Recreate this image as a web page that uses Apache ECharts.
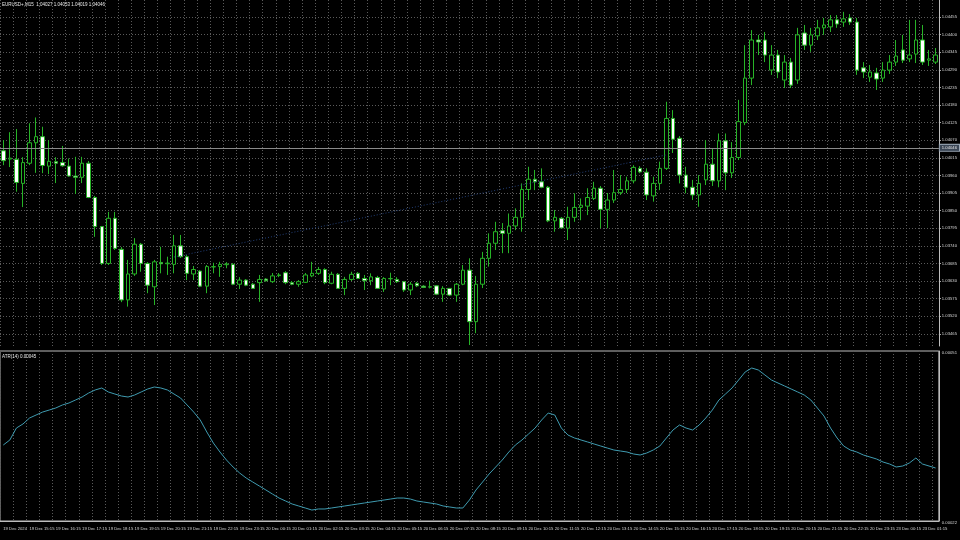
<!DOCTYPE html>
<html><head><meta charset="utf-8">
<script src="https://cdn.jsdelivr.net/npm/echarts@6/dist/echarts.min.js"></script>
<style>html,body{margin:0;padding:0;background:#000}#c{width:960px;height:540px}</style>
</head><body><div id="c"></div>
<script>
const symbolName = 'EURUSD+,M15';
const lastOHLC = '1.04027 1.04053 1.04019 1.04046';
const currentPrice = 1.04046;
const atrLabel = 'ATR(14) 0.00045';
const priceTicks = [1.03465,1.03520,1.03575,1.03630,1.03685,1.03740,1.03795,1.03850,1.03905,1.03960,1.04015,1.04070,1.04125,1.04180,1.04235,1.04290,1.04345,1.04400,1.04455];
const atrTicks = [0.00022, 0.00051];
const trendline = [[26, 1.03705], [101, 1.04024]];

const opens = [1.04037,1.04011,1.04010,1.03935,1.03998,1.04062,1.04081,1.03989,1.04003,1.04000,
1.03989,1.03958,1.03954,1.03998,1.03891,1.03800,1.03685,1.03826,1.03729,1.03571,
1.03652,1.03745,1.03685,1.03612,1.03688,1.03684,1.03682,1.03740,1.03706,1.03652,
1.03661,1.03614,1.03674,1.03675,1.03681,1.03682,1.03620,1.03633,1.03620,1.03625,
1.03636,1.03628,1.03647,1.03656,1.03625,1.03620,1.03626,1.03646,1.03654,1.03666,
1.03623,1.03651,1.03607,1.03635,1.03654,1.03638,1.03631,1.03641,1.03605,1.03637,
1.03635,1.03628,1.03602,1.03623,1.03614,1.03611,1.03615,1.03589,1.03607,1.03586,
1.03620,1.03664,1.03503,1.03620,1.03701,1.03748,1.03787,1.03779,1.03802,1.03829,
1.03916,1.03948,1.03940,1.03923,1.03818,1.03826,1.03795,1.03829,1.03860,1.03864,
1.03888,1.03920,1.03854,1.03883,1.03906,1.03916,1.03943,1.03982,1.03970,1.03896,
1.03935,1.03982,1.04138,1.04076,1.03961,1.03923,1.03899,1.03946,1.03995,1.03943,
1.04068,1.03968,1.04016,1.04125,1.04264,1.04383,1.04383,1.04289,1.04336,1.04258,
1.04314,1.04258,1.04405,1.04367,1.04396,1.04421,1.04424,1.04446,1.04439,1.04452,
1.04439,1.04296,1.04267,1.04280,1.04264,1.04289,1.04314,1.04352,1.04324,1.04339,
1.04383,1.04320,1.04314];
const closes = [1.04006,1.04014,1.03938,1.04000,1.04062,1.04081,1.03991,1.04004,1.03998,1.03990,
1.03958,1.03954,1.03998,1.03891,1.03800,1.03685,1.03826,1.03732,1.03571,1.03652,
1.03745,1.03685,1.03617,1.03690,1.03684,1.03686,1.03740,1.03706,1.03654,1.03666,
1.03614,1.03675,1.03675,1.03682,1.03683,1.03620,1.03633,1.03617,1.03607,1.03635,
1.03631,1.03646,1.03649,1.03625,1.03620,1.03628,1.03649,1.03654,1.03666,1.03625,
1.03651,1.03607,1.03635,1.03651,1.03638,1.03631,1.03643,1.03607,1.03638,1.03638,
1.03628,1.03602,1.03620,1.03615,1.03610,1.03612,1.03589,1.03607,1.03586,1.03620,
1.03664,1.03503,1.03620,1.03701,1.03748,1.03784,1.03779,1.03802,1.03829,1.03916,
1.03948,1.03940,1.03923,1.03818,1.03829,1.03796,1.03829,1.03860,1.03867,1.03891,
1.03920,1.03854,1.03883,1.03906,1.03916,1.03943,1.03985,1.03971,1.03899,1.03935,
1.03982,1.04138,1.04073,1.03961,1.03923,1.03899,1.03935,1.03995,1.03943,1.04068,
1.03968,1.04016,1.04128,1.04264,1.04383,1.04377,1.04336,1.04336,1.04283,1.04314,
1.04242,1.04399,1.04367,1.04399,1.04421,1.04430,1.04446,1.04433,1.04449,1.04439,
1.04289,1.04283,1.04283,1.04261,1.04289,1.04314,1.04333,1.04320,1.04336,1.04383,
1.04314,1.04324,1.04336];
const highs = [1.04070,1.04095,1.04105,1.04017,1.04123,1.04141,1.04112,1.04070,1.04017,1.04052,
1.04013,1.04018,1.04018,1.04005,1.03896,1.03802,1.03846,1.03846,1.03736,1.03696,
1.03764,1.03749,1.03689,1.03696,1.03737,1.03706,1.03774,1.03774,1.03711,1.03677,
1.03664,1.03680,1.03687,1.03690,1.03689,1.03686,1.03642,1.03636,1.03624,1.03649,
1.03639,1.03655,1.03655,1.03661,1.03630,1.03633,1.03655,1.03690,1.03674,1.03670,
1.03659,1.03655,1.03643,1.03659,1.03658,1.03649,1.03654,1.03646,1.03642,1.03656,
1.03642,1.03630,1.03627,1.03627,1.03617,1.03631,1.03617,1.03614,1.03608,1.03624,
1.03680,1.03701,1.03646,1.03721,1.03779,1.03815,1.03811,1.03841,1.03857,1.03935,
1.03987,1.03977,1.03982,1.03927,1.03852,1.03830,1.03862,1.03904,1.03888,1.03920,
1.03940,1.03927,1.03905,1.03977,1.03961,1.03956,1.03992,1.03989,1.03982,1.03956,
1.04003,1.04190,1.04164,1.04083,1.03987,1.03946,1.03961,1.04070,1.04045,1.04091,
1.04091,1.04064,1.04196,1.04367,1.04414,1.04399,1.04408,1.04367,1.04352,1.04336,
1.04327,1.04421,1.04430,1.04421,1.04446,1.04452,1.04461,1.04461,1.04471,1.04464,
1.04452,1.04314,1.04305,1.04296,1.04314,1.04336,1.04383,1.04399,1.04446,1.04446,
1.04430,1.04352,1.04358];
const lows = [1.03992,1.03986,1.03909,1.03861,1.03992,1.03968,1.03967,1.03964,1.03936,1.03987,
1.03956,1.03902,1.03936,1.03889,1.03768,1.03680,1.03680,1.03727,1.03564,1.03550,
1.03646,1.03659,1.03592,1.03555,1.03654,1.03649,1.03654,1.03702,1.03633,1.03633,
1.03611,1.03592,1.03654,1.03643,1.03670,1.03617,1.03605,1.03614,1.03605,1.03565,
1.03628,1.03624,1.03642,1.03620,1.03617,1.03612,1.03624,1.03642,1.03649,1.03620,
1.03620,1.03605,1.03586,1.03630,1.03636,1.03602,1.03617,1.03605,1.03596,1.03617,
1.03624,1.03596,1.03586,1.03611,1.03608,1.03607,1.03586,1.03565,1.03583,1.03565,
1.03617,1.03430,1.03467,1.03608,1.03675,1.03727,1.03717,1.03717,1.03789,1.03784,
1.03883,1.03914,1.03920,1.03814,1.03784,1.03795,1.03758,1.03815,1.03820,1.03836,
1.03883,1.03795,1.03795,1.03874,1.03899,1.03905,1.03935,1.03967,1.03883,1.03878,
1.03914,1.03977,1.04030,1.03935,1.03904,1.03883,1.03862,1.03930,1.03927,1.03923,
1.03914,1.03952,1.04008,1.04117,1.04242,1.04336,1.04314,1.04274,1.04264,1.04233,
1.04233,1.04246,1.04352,1.04346,1.04383,1.04399,1.04408,1.04421,1.04424,1.04430,
1.04274,1.04264,1.04252,1.04227,1.04252,1.04277,1.04302,1.04311,1.04314,1.04311,
1.04305,1.04302,1.04308];
const atr = [0.0003496,0.0003582,0.0003786,0.0003855,0.0003957,0.0004008,0.0004059,0.0004093,0.0004128,0.0004179,
0.0004213,0.0004264,0.0004315,0.0004383,0.0004435,0.0004469,0.0004401,0.0004366,0.0004332,0.0004315,
0.0004349,0.0004401,0.0004452,0.0004486,0.0004469,0.0004435,0.0004366,0.0004298,0.0004179,0.0004059,
0.0003923,0.0003718,0.0003530,0.0003377,0.0003240,0.0003121,0.0003019,0.0002933,0.0002865,0.0002797,
0.0002729,0.0002660,0.0002592,0.0002541,0.0002490,0.0002456,0.0002422,0.0002387,0.0002405,0.0002405,
0.0002422,0.0002439,0.0002456,0.0002473,0.0002490,0.0002507,0.0002524,0.0002541,0.0002558,0.0002575,
0.0002592,0.0002592,0.0002575,0.0002541,0.0002524,0.0002507,0.0002490,0.0002456,0.0002439,0.0002422,
0.0002422,0.0002558,0.0002729,0.0002865,0.0003002,0.0003121,0.0003240,0.0003377,0.0003496,0.0003582,
0.0003684,0.0003786,0.0003923,0.0004042,0.0004008,0.0003786,0.0003667,0.0003616,0.0003582,0.0003548,
0.0003513,0.0003479,0.0003445,0.0003411,0.0003394,0.0003377,0.0003343,0.0003326,0.0003360,0.0003411,
0.0003479,0.0003616,0.0003752,0.0003838,0.0003786,0.0003752,0.0003838,0.0003957,0.0004093,0.0004264,
0.0004366,0.0004469,0.0004605,0.0004742,0.0004810,0.0004776,0.0004691,0.0004605,0.0004554,0.0004503,
0.0004452,0.0004401,0.0004349,0.0004264,0.0004128,0.0003991,0.0003786,0.0003616,0.0003479,0.0003411,
0.0003377,0.0003326,0.0003292,0.0003258,0.0003206,0.0003172,0.0003121,0.0003138,0.0003189,0.0003275,
0.0003172,0.0003138,0.0003104];

// time categories: M15 bars from 19 Dec 14:15, weekend skipped (20 Dec -> 23 Dec)
const times = [];
(function(){ let d=19,h=14,m=15; const pad=n=>String(n).padStart(2,'0');
  for(let i=0;i<opens.length;i++){ times.push(d+' Dec '+pad(h)+':'+pad(m));
    m+=15; if(m===60){m=0;h++;} if(h===24){h=0; d=(d===20)?23:d+1;} } })();
const firstLabel = '19 Dec 2024';

const candleData = opens.map((o,i)=>[o, closes[i], lows[i], highs[i]]);

const GREEN = '#27b327';
const GRIDC = '#5a5a5a';
const AXC = '#bdbdbd';
const TXT = '#d6d6d6';
const FONT = 'Liberation Sans';

const chart = echarts.init(document.getElementById('c'), null, {renderer:'canvas'});
chart.setOption({
  backgroundColor:'#000',
  animation:false,
  title:[
    {text: symbolName+'  '+lastOHLC, left:2, top:2, padding:0, textStyle:{color:'#e8e8e8', fontSize:4.5, fontWeight:'normal', fontFamily:FONT}},
    {text: atrLabel, left:2, top:354, padding:0, textStyle:{color:'#e8e8e8', fontSize:4.5, fontWeight:'normal', fontFamily:FONT}}
  ],
  grid:[
    {left:-2.8, right:19, top:0, height:346, show:false},
    {left:-2.8, right:19, top:351, height:170, show:true, borderColor:AXC, borderWidth:1, backgroundColor:'transparent'}
  ],
  xAxis:[
    {type:'category', gridIndex:0, data:times, boundaryGap:true,
     axisLine:{show:false}, axisTick:{show:false}, axisLabel:{show:false},
     splitLine:{show:true, interval:1, lineStyle:{color:GRIDC, type:[1,2], width:1}}},
    {type:'category', gridIndex:1, data:times, boundaryGap:true,
     axisLine:{show:true, lineStyle:{color:AXC}}, axisTick:{show:false},
     axisLabel:{show:true, interval:3, align:'left', margin:6, color:TXT, fontSize:4.2, fontFamily:FONT,
       formatter:(v,i)=> i===0 ? firstLabel : v},
     splitLine:{show:true, interval:1, lineStyle:{color:GRIDC, type:[1,2], width:1}}}
  ],
  yAxis:[
    {type:'value', gridIndex:0, position:'right', min:1.03427, max:1.04508,
     axisLine:{show:true, lineStyle:{color:AXC}},
     axisTick:{show:true, length:2, inside:false, customValues:priceTicks, lineStyle:{color:AXC}},
     axisLabel:{show:true, customValues:priceTicks, margin:3, color:TXT, fontSize:4.2, fontFamily:FONT, formatter:v=>v.toFixed(5)},
     splitLine:{show:true, lineStyle:{color:GRIDC, type:[1,2], width:1}}},
    {type:'value', gridIndex:1, position:'right', min:0.00022, max:0.00051,
     axisLine:{show:true, lineStyle:{color:AXC}},
     axisTick:{show:false, customValues:atrTicks},
     axisLabel:{show:true, customValues:atrTicks, margin:3, color:TXT, fontSize:4.2, fontFamily:FONT, formatter:v=>v.toFixed(5),
       verticalAlign:'top'},
     splitLine:{show:false}}
  ],
  series:[
    {type:'candlestick', xAxisIndex:0, yAxisIndex:0, data:candleData, barWidth:4,
     itemStyle:{color:'#000', color0:'#ffffff', borderColor:GREEN, borderColor0:GREEN, borderWidth:1}},
    {type:'line', name:'levels', xAxisIndex:0, yAxisIndex:0, data:[], silent:true, symbol:'none',
     markLine:{silent:true, symbol:['none','none'], animation:false, precision:5,
       data:[
         {yAxis: currentPrice, lineStyle:{color:'#8a8a8a', type:'solid', width:1},
          label:{show:true, position:'end', distance:1, formatter: currentPrice.toFixed(5), color:'#e6e6e6', fontSize:4.2, fontFamily:FONT,
                 backgroundColor:'#3b4756', borderColor:'#9aa7b5', borderWidth:1, padding:[1,2]}},
         [{coord:[times[trendline[0][0]], trendline[0][1]], lineStyle:{color:'#23407a', type:[1,2], width:1}, label:{show:false}},
          {coord:[times[trendline[1][0]], trendline[1][1]]}]
       ]}},
    {type:'line', xAxisIndex:1, yAxisIndex:1, data:atr, showSymbol:false, symbol:'none',
     lineStyle:{color:'#3f9bb0', width:1}, silent:true}
  ]
});
</script></body></html>
